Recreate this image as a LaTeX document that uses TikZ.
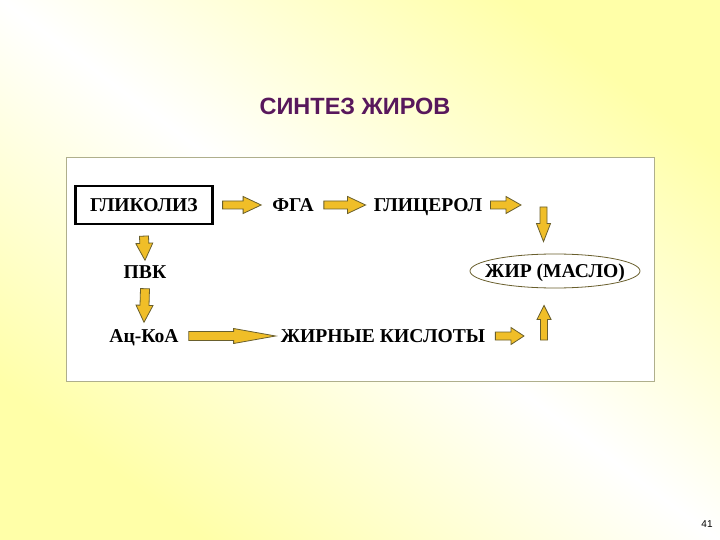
\documentclass[tikz,border=0pt]{standalone}
\usepackage{fontspec}
\setmainfont{Liberation Serif}
\newfontfamily\headfont{Liberation Sans}
\usetikzlibrary{calc,shapes.geometric}
\definecolor{bgyellow}{RGB}{255,255,168}
\definecolor{arrowgold}{RGB}{240,190,40}
\definecolor{arrowline}{RGB}{105,95,45}
\definecolor{panelline}{RGB}{175,175,140}
\definecolor{titlepurple}{RGB}{88,24,92}

\begin{document}
\begin{tikzpicture}[x=1pt,y=-1pt,
  lbl/.style={font=\fontsize{19.6}{22}\selectfont\bfseries, inner sep=1pt,
    text height=13pt, text depth=0pt},
  fatarrow/.style args={#1/#2/#3}{fill=arrowgold, draw=arrowline, line width=0.8pt,
    line join=miter,
    to path={coordinate (arrS) (\tikztotarget) coordinate (arrT)
      ($(arrS)!#1!90:(arrT)$) -- ($(arrT)!#3!(arrS)!#1!90:(arrT)$)
      -- ($(arrT)!#3!(arrS)!#2!90:(arrT)$) -- (arrT)
      -- ($(arrT)!#3!(arrS)!#2!-90:(arrT)$) -- ($(arrT)!#3!(arrS)!#1!-90:(arrT)$)
      -- ($(arrS)!#1!-90:(arrT)$) -- cycle}}]
\shade[top color=bgyellow, bottom color=bgyellow, middle color=white, shading angle=-37]
  (0,0) rectangle (720,540);
\draw[panelline, fill=white, line width=0.8pt] (66,157) rectangle (654,381);

\node[font=\fontsize{23.5}{26}\selectfont\headfont\bfseries, text=titlepurple] (title) at (355,106) {СИНТЕЗ ЖИРОВ};

\node[lbl, draw, line width=2.2pt, minimum width=137pt, minimum height=38pt] (gly) at (144,205) {ГЛИКОЛИЗ};
\node[lbl] (fga) at (293,205) {ФГА};
\node[lbl] (gli) at (428,205) {ГЛИЦЕРОЛ};
\node[lbl] (pvk) at (145,272) {ПВК};
\node[lbl] (acoa) at (144,336) {Ац-КоА};
\node[lbl] (acid) at (383,336) {ЖИРНЫЕ КИСЛОТЫ};
\node[lbl, ellipse, draw=arrowline, line width=0.8pt, fill=white, minimum width=170pt, minimum height=34pt, inner xsep=-10pt, inner ysep=0pt] (fat) at (555,271) {ЖИР (МАСЛО)};

\coordinate (gend) at (521,205);
\coordinate (dtop) at (543.5,207);
\coordinate (aend) at (524,336);
\coordinate (ubot) at (544,340);

\draw[fatarrow=4pt/8.5pt/18pt] ([xshift=9pt]gly.east) to ([xshift=-10pt]fga.west);
\draw[fatarrow=4pt/8.5pt/18pt] ([xshift=9pt]fga.east) to ([xshift=-7pt]gli.west);
\draw[fatarrow=4pt/8.5pt/15pt] ([xshift=7pt]gli.east) to (gend);
\draw[fatarrow=3.5pt/7pt/18pt] (dtop) to ($(dtop |- fat.north)+(0,-12)$);
\draw[fatarrow=4.5pt/8.5pt/17pt] ([yshift=-11pt]gly.south) to ([yshift=4pt]pvk.north);
\draw[fatarrow=4.5pt/8.5pt/17pt] ([yshift=-9pt]pvk.south) to ([yshift=6pt]acoa.north);
\draw[fatarrow=4.5pt/7.5pt/42pt] ([xshift=9pt]acoa.east) to ([xshift=-4pt]acid.west);
\draw[fatarrow=4pt/8.5pt/13pt] ([xshift=9pt]acid.east) to (aend);
\draw[fatarrow=3.5pt/7pt/14pt] (ubot) to ($(ubot |- fat.south)+(0,17)$);

\node[font=\fontsize{10}{12}\selectfont\headfont] (page) at (707,524) {41};
\end{tikzpicture}
\end{document}
